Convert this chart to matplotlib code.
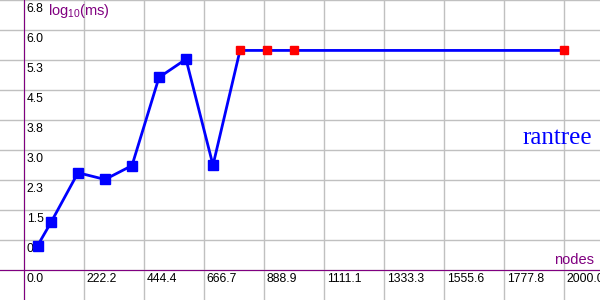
import matplotlib
matplotlib.use("Agg")
import matplotlib.pyplot as plt
import numpy as np

plt.rcParams["font.family"] = ["Liberation Sans", "DejaVu Sans"]
plt.rcParams["mathtext.fontset"] = "custom"
plt.rcParams["mathtext.rm"] = "Liberation Sans"
plt.rcParams["mathtext.it"] = "Liberation Sans"

nodes = [50, 100, 200, 300, 400, 500, 600, 700, 800, 900, 1000, 2000]
log_ms = [0.61, 1.20, 2.45, 2.28, 2.63, 4.85, 5.31, 2.64, 5.53, 5.53, 5.53, 5.53]
timed_out = [False] * 8 + [True] * 4

x_ticks = np.linspace(0, 2000, 10)
y_ticks = np.linspace(0, 6.8, 10)

purple = "#800080"

fig = plt.figure(figsize=(6, 3), dpi=100)
ax = fig.add_axes([0, 0, 1, 1])

xstep = 2000 / 9
ystep = 6.8 / 9
ax.set_xlim(-0.4 * xstep, 9.6 * xstep)
ax.set_ylim(6.8 - 10 * ystep, 6.8)

ax.set_xticks(x_ticks)
ax.set_yticks(y_ticks)
ax.set_xticklabels([])
ax.set_yticklabels([])
ax.tick_params(length=0)
ax.grid(True, color="#c0c0c0", linewidth=1)
ax.set_axisbelow(True)

for s in ["top", "right"]:
    ax.spines[s].set_visible(False)
ax.spines["left"].set_position(("data", 0))
ax.spines["bottom"].set_position(("data", 0))
ax.spines["left"].set_color(purple)
ax.spines["bottom"].set_color(purple)
ax.spines["left"].set_zorder(1.5)
ax.spines["bottom"].set_zorder(1.5)

for xt in x_ticks:
    ax.annotate(f"{xt:.1f}", (xt, 0), xytext=(2, -2.5), textcoords="offset points",
                ha="left", va="top", fontsize=8.7, color="black")
for yt in y_ticks[1:]:
    ax.annotate(f"{yt:.1f}", (0, yt), xytext=(2, -2.5), textcoords="offset points",
                ha="left", va="top", fontsize=8.7, color="black")

ax.plot(nodes, log_ms, color="blue", linewidth=2, zorder=3)
ok_x = [n for n, t in zip(nodes, timed_out) if not t]
ok_y = [v for v, t in zip(log_ms, timed_out) if not t]
to_x = [n for n, t in zip(nodes, timed_out) if t]
to_y = [v for v, t in zip(log_ms, timed_out) if t]
ax.plot(ok_x, ok_y, "s", color="blue", markersize=6.5, zorder=4)
ax.plot(to_x, to_y, "s", color="red", markersize=6, zorder=4)

ax.text(0.08, 0.965, r"log$_{10}$(ms)", transform=ax.transAxes, fontsize=10.5,
        color=purple, ha="left", va="center")
ax.text(0.99, 0.135, "nodes", transform=ax.transAxes, fontsize=10.5,
        color=purple, ha="right", va="center")
ax.text(0.987, 0.54, "rantree", transform=ax.transAxes, fontsize=18,
        color="blue", ha="right", va="center", family="Liberation Serif")

fig.savefig("out.png", dpi=100)
